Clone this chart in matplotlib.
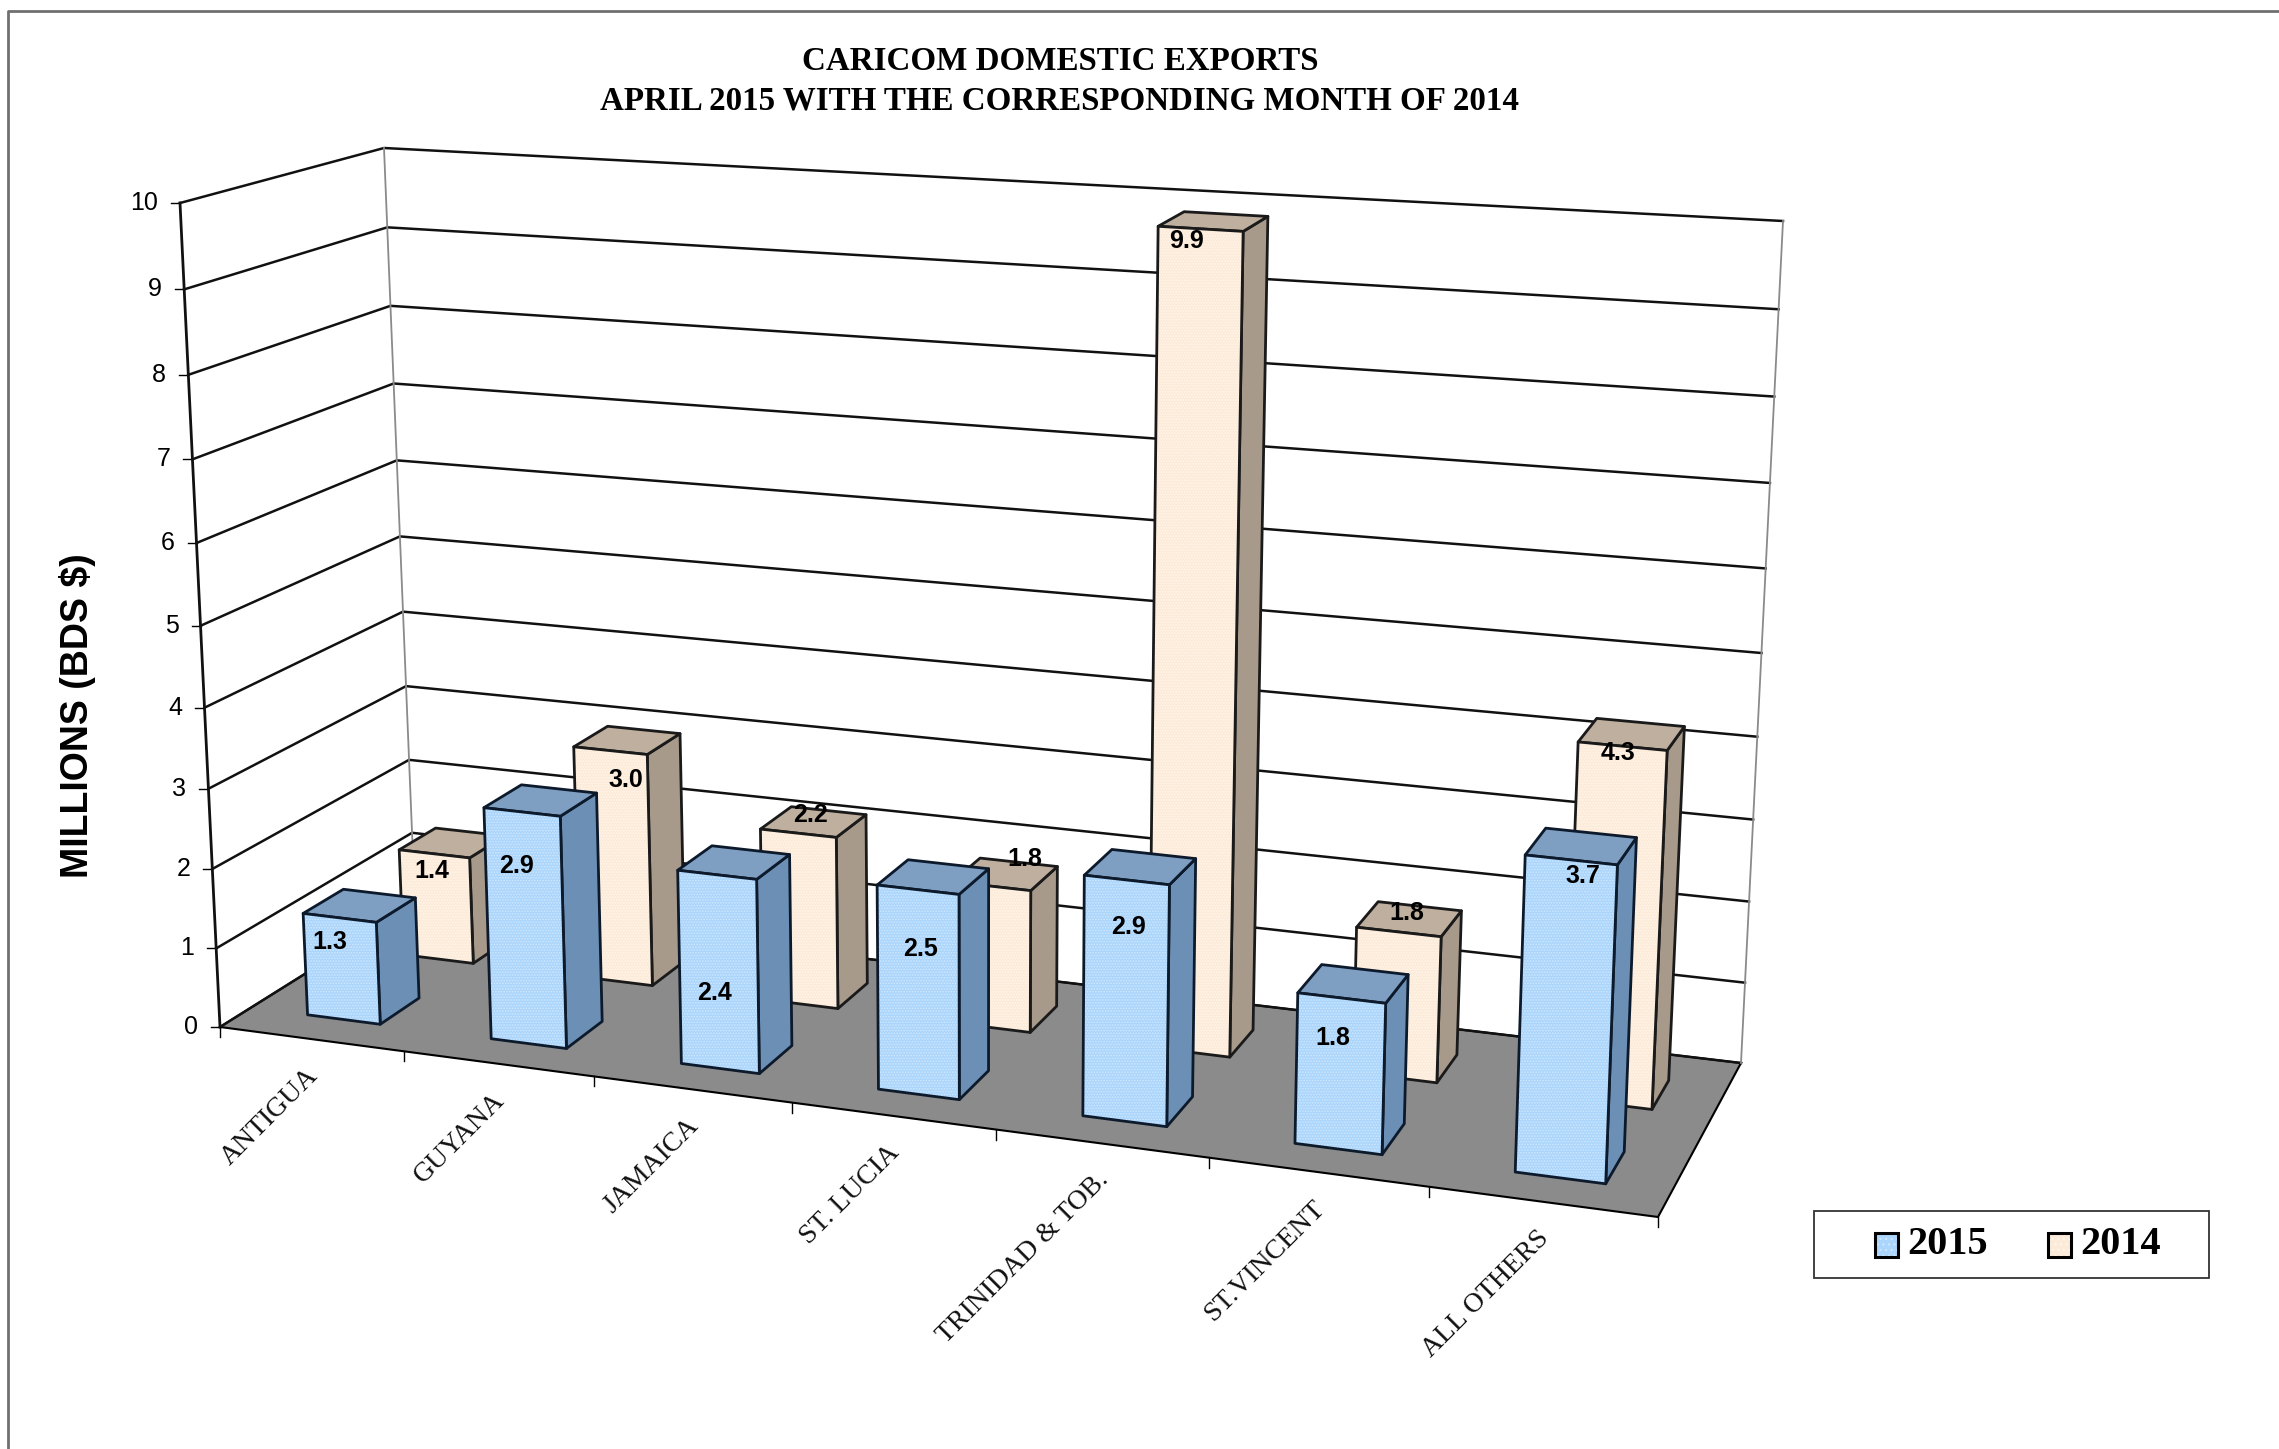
import numpy as np
import matplotlib
matplotlib.use('Agg')
import matplotlib.pyplot as plt
from matplotlib.patches import Polygon, Rectangle

# chart data
categories = ['ANTIGUA', 'GUYANA', 'JAMAICA', 'ST. LUCIA', 'TRINIDAD & TOB.', 'ST.VINCENT', 'ALL OTHERS']
values_2015 = [1.3, 2.9, 2.4, 2.5, 2.9, 1.8, 3.7]
values_2014 = [1.4, 3.0, 2.2, 1.8, 9.9, 1.8, 4.3]
y_ticks = [0, 1, 2, 3, 4, 5, 6, 7, 8, 9, 10]

# where the data labels sit in the picture (pixels)
label_xy_2015 = [(330, 942), (516, 866), (714, 993), (920, 949), (1129, 927), (1333, 1038), (1583, 876)]
label_xy_2014 = [(432, 871), (626, 780), (810, 815), (1025, 859), (1187, 241), (1407, 913), (1618, 753)]

# corners of the chart box in pixels, floor then value 10
FRONT_LEFT = ((220, 1027), (180, 203))
BACK_LEFT = ((415, 905), (384, 148))
BACK_RIGHT = ((1741, 1063), (1783, 221))
FRONT_RIGHT = ((1658, 1217), (1693, 312))

BAR_SHARE = 0.4
BAR_NUDGE_2015 = 0.002
BAR_NUDGE_2014 = 0.004
ACROSS_WARP = 0.88  # categories get wider to the right
VALUE_WARP = 0.949  # value steps get taller towards the top
DEPTH_2015 = (0.16, 0.37)
DEPTH_2014 = (0.65, 0.84)


def project(u, v, h):  # box position to pixels, the picture is not a true perspective so blend the corners
    s = ACROSS_WARP * u / (1 + (ACROSS_WARP - 1) * u)
    t = h / 10
    t = VALUE_WARP * t / (1 + (VALUE_WARP - 1) * t)
    point = np.zeros(2)
    for corner, weight in [(FRONT_LEFT, (1 - s) * (1 - v)), (FRONT_RIGHT, s * (1 - v)),
                           (BACK_LEFT, (1 - s) * v), (BACK_RIGHT, s * v)]:
        point += weight * ((1 - t) * np.array(corner[0]) + t * np.array(corner[1]))
    return point[0], point[1]


def draw_face(ax, corners, color, edge, hatch_color=None, z=3):
    ax.add_patch(Polygon(corners, closed=True, facecolor=color, edgecolor='none', zorder=z))
    if hatch_color:
        ax.add_patch(Polygon(corners, closed=True, facecolor='none', edgecolor=hatch_color,
                             hatch='......', linewidth=0, zorder=z))
    ax.add_patch(Polygon(corners, closed=True, facecolor='none', edgecolor=edge, linewidth=2,
                         joinstyle='round', zorder=z))


def draw_bar(ax, i, value, depth, nudge, face, top, side, hatch_color, edge, z):
    half = BAR_SHARE / 7 / 2
    centre = (i + 0.5) / 7 + nudge
    u0, u1 = centre - half, centre + half
    v0, v1 = depth
    draw_face(ax, [project(u1, v0, 0), project(u1, v1, 0), project(u1, v1, value), project(u1, v0, value)],
              side, edge, z=z)
    draw_face(ax, [project(u0, v0, value), project(u1, v0, value), project(u1, v1, value), project(u0, v1, value)],
              top, edge, z=z)
    draw_face(ax, [project(u0, v0, 0), project(u1, v0, 0), project(u1, v0, value), project(u0, v0, value)],
              face, edge, hatch_color, z=z)


plt.rcParams['hatch.linewidth'] = 0.8
fig = plt.figure(figsize=(22.79, 14.49), dpi=100)
ax = fig.add_axes([0, 0, 1, 1])
ax.set_xlim(0, 2279)
ax.set_ylim(1449, 0)
ax.axis('off')

# page frame, only top and left
ax.plot([8, 8, 2279], [1449, 11, 11], color='#707070', linewidth=2)

# floor
floor = [project(0, 0, 0), project(0, 1, 0), project(1, 1, 0), project(1, 0, 0)]
ax.add_patch(Polygon(floor, closed=True, facecolor='#8B8B8B', edgecolor='black', linewidth=1.5, zorder=1))

# walls and grid
for tick in y_ticks:
    xs, ys = zip(project(0, 0, tick), project(0, 1, tick), project(1, 1, tick))
    ax.plot(xs, ys, color='#111111', linewidth=1.8, zorder=1)
    x, y = project(0, 0, tick)
    ax.plot([x - 9, x], [y, y], color='black', linewidth=1, zorder=1)
    ax.text(x - 22, y, str(tick), ha='right', va='center', fontsize=18, family='Liberation Sans')

for u, v, color, lw in [(0, 1, '#8a8a8a', 1.3), (1, 1, '#8a8a8a', 1.3), (0, 0, '#111111', 2)]:
    xs, ys = zip(project(u, v, 0), project(u, v, 10))
    ax.plot(xs, ys, color=color, linewidth=lw, zorder=1)

# category ticks and names
for i in range(8):
    x, y = project(i / 7, 0, 0)
    ax.plot([x, x], [y, y + 10], color='black', linewidth=1, zorder=1)
for i, name in enumerate(categories):
    x, y = project((i + 0.5) / 7, 0, 0)
    ax.text(x - 6, y + 24, name, rotation=45, ha='right', va='top', rotation_mode='anchor',
            fontsize=20, family='Liberation Serif', color='#111111')

# bars, back row first
for i, value in enumerate(values_2014):
    draw_bar(ax, i, value, DEPTH_2014, BAR_NUDGE_2014, '#FDEBD9', '#BFAF9F', '#A89A8B', '#FFF6EC', '#1a1a1a', 3)
for i, value in enumerate(values_2015):
    draw_bar(ax, i, value, DEPTH_2015, BAR_NUDGE_2015, '#ABD5FB', '#7F9FC2', '#6C8FB5', '#CFE8FF', '#0c1a2c', 4)

# data labels
for xy, value in zip(label_xy_2014 + label_xy_2015, values_2014 + values_2015):
    ax.text(xy[0], xy[1], f'{value:.1f}', ha='center', va='center', fontsize=18, fontweight='bold',
            family='Liberation Sans', zorder=6)

# titles
ax.text(1060, 62, 'CARICOM DOMESTIC EXPORTS', ha='center', va='center', fontsize=23.8,
        fontweight='bold', family='Liberation Serif')
ax.text(1060, 101, 'APRIL 2015 WITH THE CORRESPONDING MONTH OF 2014', ha='center', va='center', fontsize=23.8,
        fontweight='bold', family='Liberation Serif')
ax.text(78, 716, 'MILLIONS (BDS $)', rotation=90, ha='center', va='center', fontsize=27,
        fontweight='bold', family='Liberation Sans')

# legend
ax.add_patch(Rectangle((1814, 1211), 395, 67, facecolor='white', edgecolor='#333333', linewidth=1.3, zorder=5))
for x, label, color, hatch_color in [(1875, '2015', '#ABD5FB', '#CFE8FF'), (2048, '2014', '#FDEBD9', '#FFF6EC')]:
    ax.add_patch(Rectangle((x, 1233), 23, 24, facecolor=color, edgecolor='none', zorder=6))
    ax.add_patch(Rectangle((x, 1233), 23, 24, facecolor='none', edgecolor=hatch_color, hatch='...', linewidth=0, zorder=6))
    ax.add_patch(Rectangle((x, 1233), 23, 24, facecolor='none', edgecolor='black', linewidth=2.2, zorder=6))
    ax.text(x + 32, 1244, label, ha='left', va='center', fontsize=29, fontweight='bold',
            family='Liberation Serif', zorder=6)

fig.savefig('out.png', dpi=100)
